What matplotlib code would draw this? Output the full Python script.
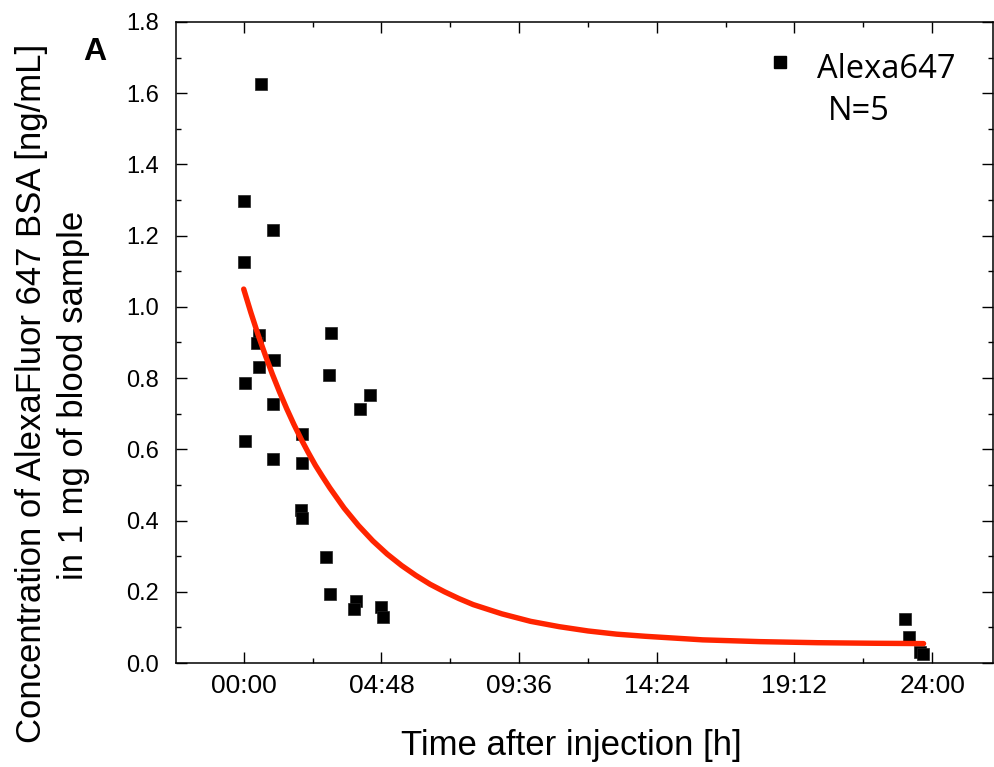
import matplotlib
matplotlib.use("Agg")
import matplotlib.pyplot as plt
from matplotlib.ticker import MultipleLocator, FuncFormatter
from matplotlib.lines import Line2D

# ---- data (hours after injection, concentration ng/mL) ----
time_h = [0.02, 0.62, 1.03, 0.00,
          0.52, 0.46, 0.52, 1.045, 0.03, 1.01, 0.03, 1.02,
          2.04, 2.03, 2.01, 2.04, 3.04, 2.97, 4.40, 4.04,
          2.87, 3.01, 3.90, 3.84, 4.77, 4.86,
          23.05, 23.20, 23.58, 23.69]
conc = [1.297, 1.626, 1.216, 1.126,
        0.921, 0.899, 0.832, 0.851, 0.785, 0.727, 0.623, 0.572,
        0.642, 0.562, 0.430, 0.406, 0.928, 0.808, 0.752, 0.712,
        0.297, 0.194, 0.173, 0.152, 0.157, 0.128,
        0.124, 0.073, 0.032, 0.026]

# fitted decay curve as read (and smoothed) from the picture
fit_t = [0.0, 0.25, 0.5, 0.75, 1.0, 1.25, 1.5, 1.75, 2.0, 2.25, 2.5, 2.75,
         3.0, 3.5, 4.0, 4.5, 5.0, 5.5, 6.0, 6.5, 7.0, 7.5, 8.0, 9.0, 10.0,
         11.0, 12.0, 13.0, 14.0, 16.0, 18.0, 20.0, 22.0, 23.7]
fit_c = [1.050, 0.984, 0.922, 0.865, 0.811, 0.761, 0.714, 0.670, 0.629, 0.591,
         0.555, 0.523, 0.492, 0.435, 0.386, 0.343, 0.306, 0.274, 0.246, 0.221,
         0.200, 0.181, 0.164, 0.138, 0.117, 0.102, 0.090, 0.081, 0.075, 0.065,
         0.060, 0.057, 0.0554, 0.0545]

series_label = "Alexa647"
n_label = "N=5"
panel_label = "A"
xlabel = "Time after injection [h]"
ylabel_line1 = "Concentration of AlexaFluor 647 BSA [ng/mL]"
ylabel_line2 = "in 1 mg of blood sample"

plt.rcParams['font.family'] = ['Liberation Sans', 'DejaVu Sans']

fig = plt.figure(figsize=(9.95, 7.67), dpi=100)
ax = fig.add_axes([176/995, 1-663/767, (993-176)/995, (663-22)/767])

ax.plot(time_h, conc, ls='none', marker='s', ms=8.6, color='black',
        markeredgecolor='#222222', markeredgewidth=0.5, zorder=2)
ax.plot(fit_t, fit_c, color='#ff2400', lw=3.9, solid_capstyle='round',
        solid_joinstyle='round', zorder=3)

ax.set_xlim(-2.36, 26.12)
ax.set_ylim(0, 1.8)
ax.xaxis.set_major_locator(MultipleLocator(4.8))
ax.xaxis.set_minor_locator(MultipleLocator(2.4))
ax.yaxis.set_major_locator(MultipleLocator(0.2))
ax.yaxis.set_minor_locator(MultipleLocator(0.1))


def hhmm(v, pos):
    total = int(round(v * 60))
    h, m = divmod(total, 60)
    return f"{h:02d}:{m:02d}"


ax.xaxis.set_major_formatter(FuncFormatter(hhmm))
ax.yaxis.set_major_formatter(FuncFormatter(lambda v, p: f"{v:.1f}"))

ax.tick_params(which='both', direction='in', top=True, right=True, width=1.0)
ax.tick_params(which='major', length=8)
ax.tick_params(which='minor', length=3.8)
ax.tick_params(axis='y', which='major', labelsize=17, pad=12)
ax.tick_params(axis='x', which='major', labelsize=19, pad=8)
for s in ax.spines.values():
    s.set_linewidth(1.1)

# legend-like annotation
ax.add_line(Line2D([0.739], [0.938], transform=ax.transAxes, marker='s',
                   ms=8.6, color='black', ls='none'))
ax.text(0.785, 0.912, series_label, transform=ax.transAxes, fontsize=23.5,
        family=['Open Sans', 'DejaVu Sans'], va='baseline', ha='left')
ax.text(0.798, 0.847, n_label, transform=ax.transAxes, fontsize=23.5,
        family=['Open Sans', 'DejaVu Sans'], va='baseline', ha='left')

fig.text(95/995, 1-52/767, panel_label, fontsize=23, fontweight='bold',
         ha='center', va='center')
fig.text(571/995, 1-746/767, xlabel, fontsize=25, ha='center', va='center')
fig.text(32/995, 1-393/767, ylabel_line1, fontsize=25, ha='center',
         va='center', rotation=90)
fig.text(74/995, 1-395/767, ylabel_line2, fontsize=25, ha='center',
         va='center', rotation=90)

fig.savefig("out.png", dpi=100)
